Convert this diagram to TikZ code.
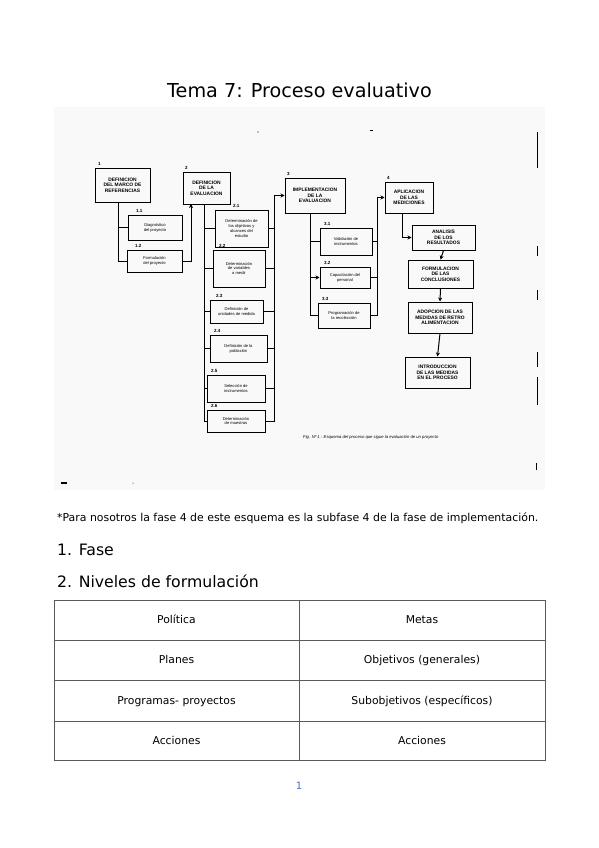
\documentclass[tikz,border=0pt]{standalone}
\usepackage{fontspec}
\setmainfont{DejaVu Sans}
\newfontfamily\scanf{Liberation Sans}
\usetikzlibrary{arrows.meta,calc}
\definecolor{scanbg}{RGB}{249,249,249}
\definecolor{tblline}{RGB}{90,90,90}
\definecolor{pgnum}{RGB}{80,110,200}
\tikzset{
  hbox/.style={draw, line width=1pt, inner sep=1pt, align=center,
    font=\scanf\bfseries\fontsize{4.9}{5.6}\selectfont},
  sbox/.style={draw, line width=1pt, inner sep=1pt, align=center,
    font=\scanf\fontsize{4.1}{4.9}\selectfont},
  lbl/.style={inner sep=0.5pt, font=\scanf\bfseries\fontsize{4.5}{5}\selectfont, anchor=south west},
  ln/.style={line width=1pt},
  arr/.style={line width=1pt, -{Stealth[length=4pt,width=4pt]}},
  speck/.style={line width=1pt},
  tcell/.style={font=\fontsize{10.8}{12}\selectfont, inner sep=0pt, anchor=base},
}
\begin{document}
\begin{tikzpicture}[x=1pt,y=-1pt]
\useasboundingbox (0,0) rectangle (599,848);
\fill[white] (0,0) rectangle (599,848);
% title
\node[font=\fontsize{19.2}{21}\selectfont, anchor=base] (title) at (299.5,98) {Tema 7: Proceso evaluativo};
% scanned area background
\fill[scanbg] (54,107) rectangle (545,490);

% ---- column 1
\node[hbox, minimum width=55pt, minimum height=34pt] (b1) at (122.5,185) {DEFINICION\\DEL MARCO DE\\REFERENCIAS};
\node[sbox, minimum width=54pt, minimum height=25pt] (b11) at (155,227.5) {Diagnóstico\\del proyecto};
\node[sbox, minimum width=55pt, minimum height=22pt] (b12) at (154.5,261) {Formulación\\del proyecto};
\node[lbl] (l1) at ([xshift=3pt,yshift=1pt]b1.north west) {1};
\node[lbl] (l11) at ([xshift=8pt,yshift=1pt]b11.north west) {1.1};
\node[lbl] (l12) at ([xshift=8pt,yshift=1pt]b12.north west) {1.2};

% ---- column 2
\node[hbox, minimum width=47pt, minimum height=32pt] (b2) at (206.5,188) {DEFINICION\\DE LA\\EVALUACION};
\node[sbox, minimum width=53pt, minimum height=37pt] (b21) at (241.5,228.5) {Determinación de\\los objetivos y\\alcances del\\estudio};
\node[sbox, minimum width=52pt, minimum height=37pt] (b22) at (239,268.5) {Determinación\\de variables\\a medir};
\node[sbox, minimum width=53pt, minimum height=23pt] (b23) at (236.5,311.5) {Definición de\\unidades de medida};
\node[sbox, minimum width=57pt, minimum height=27pt] (b24) at (238.5,348.5) {Definición de la\\población};
\node[sbox, minimum width=58pt, minimum height=27pt] (b25) at (236,388.5) {Selección de\\instrumentos};
\node[sbox, minimum width=58pt, minimum height=22pt] (b26) at (236,421) {Determinación\\de muestras};
\node[lbl] (l2) at ([xshift=2pt,yshift=1pt]b2.north west) {2};
\node[lbl] (l21) at ([xshift=18pt,yshift=1pt]b21.north west) {2.1};
\node[lbl] (l22) at ([xshift=6pt,yshift=1pt]b22.north west) {2.2};
\node[lbl] (l23) at ([xshift=6pt,yshift=1pt]b23.north west) {2.3};
\node[lbl] (l24) at ([xshift=4pt,yshift=1pt]b24.north west) {2.4};
\node[lbl] (l25) at ([xshift=4pt,yshift=1pt]b25.north west) {2.5};
\node[lbl] (l26) at ([xshift=4pt,yshift=1pt]b26.north west) {2.6};

% ---- column 3
\node[hbox, minimum width=60pt, minimum height=35pt] (b3) at (315,195.5) {IMPLEMENTACION\\DE LA\\EVALUACION};
\node[sbox, minimum width=52pt, minimum height=27pt] (b31) at (346,241.5) {Validación de\\instrumentos};
\node[sbox, minimum width=50pt, minimum height=21pt] (b32) at (345,277.5) {Capacitación del\\personal};
\node[sbox, minimum width=52pt, minimum height=25pt] (b33) at (344,315.5) {Programación de\\la recolección};
\node[lbl] (l3) at ([xshift=2pt,yshift=1pt]b3.north west) {3};
\node[lbl] (l31) at ([xshift=4pt,yshift=1pt]b31.north west) {3.1};
\node[lbl] (l32) at ([xshift=4pt,yshift=1pt]b32.north west) {3.2};
\node[lbl] (l33) at ([xshift=4pt,yshift=1pt]b33.north west) {3.3};

% ---- column 4
\node[hbox, minimum width=48pt, minimum height=31pt] (b4) at (409,197.5) {APLICACION\\DE LAS\\MEDICIONES};
\node[hbox, minimum width=63pt, minimum height=25pt] (b41) at (443.5,237.5) {ANALISIS\\DE LOS\\RESULTADOS};
\node[hbox, minimum width=65pt, minimum height=28pt] (b42) at (440.5,274) {FORMULACION\\DE LAS\\CONCLUSIONES};
\node[hbox, minimum width=64pt, minimum height=31pt] (b43) at (440,317.5) {ADOPCION DE LAS\\MEDIDAS DE RETRO\\ALIMENTACION};
\node[hbox, minimum width=65pt, minimum height=31pt] (b44) at (437.5,372.5) {INTRODUCCION\\DE LAS MEDIDAS\\EN EL PROCESO};
\node[lbl] (l4) at ([xshift=2pt,yshift=1pt]b4.north west) {4};

% ---- connectors column 1
\coordinate (c1) at (118,202);
\draw[ln] (c1) |- (b12.west);
\draw[ln] (b11.west -| c1) -- (b11.west);
\coordinate (c12) at (191,204);
\draw[arr] (b12.east) -| (c12);

% ---- connectors column 2
\coordinate (c2l) at (204,204);
\draw[ln] (c2l) |- (b26.west);
\foreach \n in {b21,b22,b23,b24,b25}{\draw[ln] (\n.west -| c2l) -- (\n.west);}
\coordinate (c2r) at (274,300);
\draw[arr] (b26.east) -- (b26.east -| c2r) -- (b3.west -| c2r) -- (b3.west);
\foreach \n in {b21,b22,b23,b24,b25}{\draw[ln] (\n.east) -- (\n.east -| c2r);}

% ---- connectors column 3
\coordinate (c3l) at (310,213);
\draw[ln] (c3l) |- (b33.west);
\draw[ln] (b31.west -| c3l) -- (b31.west);
\draw[arr] (b32.west -| c3l) -- (b32.west);
\coordinate (c3r) at (377,300);
\draw[arr] (b33.east) -- (b33.east -| c3r) -- (b4.west -| c3r) -- (b4.west);
\foreach \n in {b31,b32}{\draw[ln] (\n.east) -- (\n.east -| c3r);}

% ---- connectors column 4
\coordinate (c4) at (402,213);
\draw[arr] (c4) |- (b41.west);
\draw[arr] (b41.south) -- (b42.north);
\draw[arr] (b42.south) -- (b43.north);
\draw[arr] (b43.south) -- (b44.north);

% caption of the scanned figure
\node[font=\scanf\itshape\fontsize{4.2}{4.2}\selectfont, anchor=west, inner sep=0pt] (cap) at (303,437) {Fig. Nº 1 : Esquema del proceso que sigue la evaluación de un proyecto};

% scan specks on the right edge
\draw[speck] (537,132) -- (537,168);
\draw[speck] (537,246) -- (537,256);
\draw[speck] (537,290) -- (537,300);
\draw[speck] (537,352) -- (537,367);
\draw[speck] (537,377) -- (537,405);
\draw[speck] (536,463) -- (536,470);
\fill (258,132) circle (0.6);
\fill (370,130) rectangle (373,131);
\fill (61,482) rectangle (67,483.5);
\fill (133,483) circle (0.5);

% ---- text below
\node[font=\fontsize{10.9}{12}\selectfont, anchor=base west, inner sep=0pt] (note) at (57,521) {*Para nosotros la fase 4 de este esquema es la subfase 4 de la fase de implementación.};
\node[font=\fontsize{15.7}{18}\selectfont, anchor=base west, inner sep=0pt] (h1) at (57,555) {1. Fase};
\node[font=\fontsize{15.7}{18}\selectfont, anchor=base west, inner sep=0pt] (h2) at (57,587) {2. Niveles de formulación};

% ---- table
\draw[tblline, line width=1pt] (54,600) rectangle (545,760);
\draw[tblline, line width=1pt] (54,640) -- (545,640);
\draw[tblline, line width=1pt] (54,680) -- (545,680);
\draw[tblline, line width=1pt] (54,721) -- (545,721);
\draw[tblline, line width=1pt] (299,600) -- (299,760);
\node[tcell] (t11) at (176.5,623.5) {Política};
\node[tcell] (t12) at (422,623.5) {Metas};
\node[tcell] (t21) at (176.5,663.5) {Planes};
\node[tcell] (t22) at (422,663.5) {Objetivos (generales)};
\node[tcell] (t31) at (176.5,704) {Programas- proyectos};
\node[tcell] (t32) at (422,704) {Subobjetivos (específicos)};
\node[tcell] (t41) at (176.5,744) {Acciones};
\node[tcell] (t42) at (422,744) {Acciones};

% page number
\node[font=\fontsize{10}{12}\selectfont, text=pgnum] (pg) at (299,786) {1};
\end{tikzpicture}
\end{document}
